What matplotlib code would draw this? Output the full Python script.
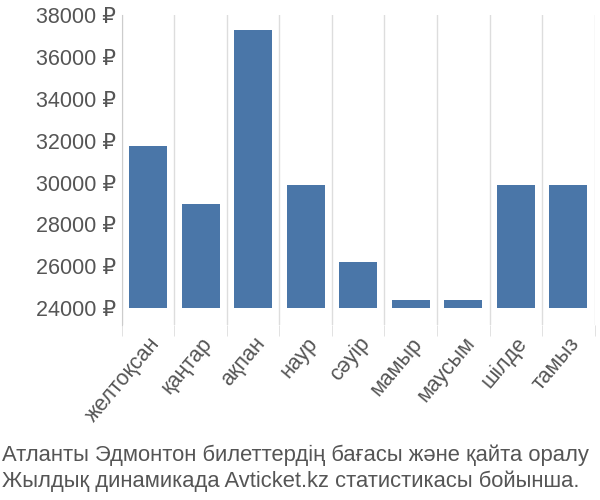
import matplotlib
matplotlib.use("Agg")
import matplotlib.pyplot as plt
from matplotlib.ticker import FuncFormatter

months = ["желтоқсан", "қаңтар", "ақпан", "наур", "сәуір", "мамыр", "маусым", "шілде", "тамыз"]
prices = [31750, 29000, 37300, 29900, 26200, 24400, 24400, 29900, 29900]
yticks = [24000, 26000, 28000, 30000, 32000, 34000, 36000, 38000]
base = 24000

plt.rcParams["font.family"] = ["Liberation Sans", "DejaVu Sans"]
fig = plt.figure(figsize=(6, 5), dpi=100)
ax = fig.add_axes([0.203, 0.35, 0.788, 0.62])
x = list(range(len(months)))
ax.bar(x, [p - base for p in prices], bottom=base, width=0.72, color="#4a76a8", zorder=3)
ax.set_xlim(-0.5, len(months) - 0.5)
ax.set_ylim(23200, 38000)
ax.set_yticks(yticks)
ax.yaxis.set_major_formatter(FuncFormatter(lambda v, p: f"{int(v)} ₽"))
ax.set_xticks([i - 0.5 for i in x] + [len(months) - 0.5], minor=True)
ax.set_xticks(x)
ax.set_xticklabels(months, rotation=50, ha="right", rotation_mode="anchor")
ax.grid(axis="x", which="minor", color="#dddddd", lw=1, zorder=0)
ax.tick_params(which="major", axis="x", length=0, labelsize=15.5, colors="#555555", pad=6)
ax.tick_params(which="minor", axis="x", length=8, color="#dddddd")
ax.tick_params(axis="y", length=0, labelsize=15.5, colors="#555555", pad=4)
for s in ["top", "right", "bottom"]:
    ax.spines[s].set_visible(False)
ax.spines["left"].set_color("#cccccc")
fig.text(0.003, 0.015, "Атланты Эдмонтон билеттердің бағасы және қайта оралу\nЖылдық динамикада Avticket.kz статистикасы бойынша.",
         fontsize=15.8, color="#555555", va="bottom", linespacing=1.3)
fig.savefig("out.png")
